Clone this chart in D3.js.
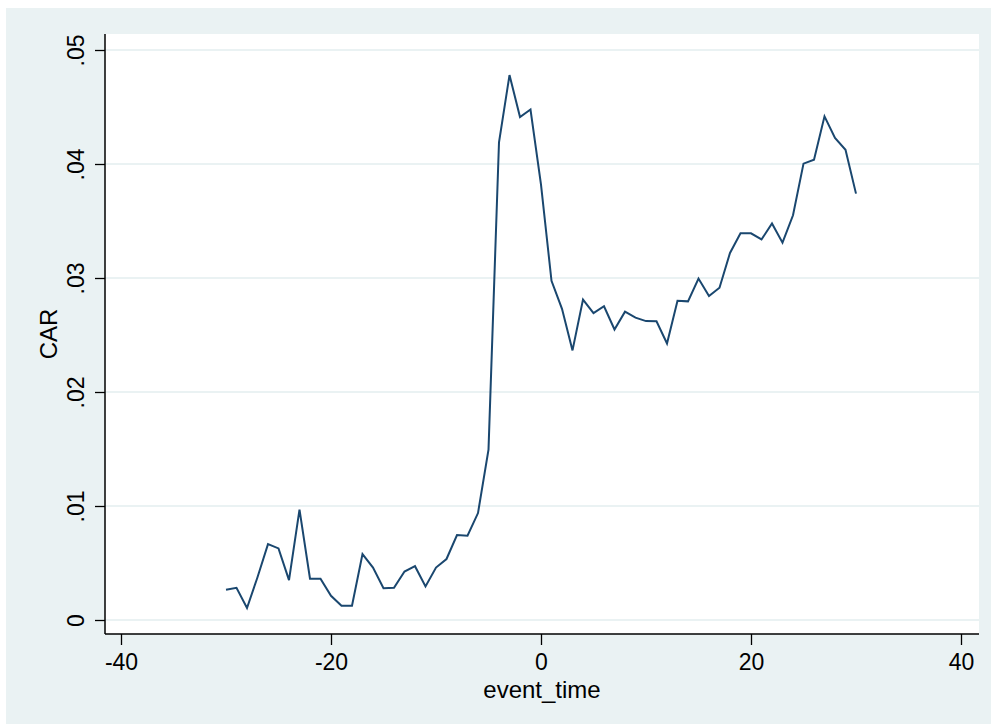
<!DOCTYPE html>
<html>
<head>
<meta charset="utf-8">
<script src="https://cdn.jsdelivr.net/npm/d3@7"></script>
<style>
  body { margin: 0; background: #ffffff; }
  text { font-family: "Liberation Sans", Arial, sans-serif; fill: #000; }
</style>
</head>
<body>
<div id="wrapper"></div>
<script>
// event window -30 .. 30
const eventTime = d3.range(-30, 31)
const carValues = [
  0.00265, 0.00282, 0.00105, 0.00375, 0.00665, 0.00628, 0.0035, 0.00968,
  0.00362, 0.00362, 0.00212, 0.00125, 0.00125, 0.00578, 0.0046, 0.00278,
  0.00282, 0.00425, 0.00472, 0.00295, 0.0046, 0.00535, 0.00745, 0.0074,
  0.00938, 0.01495, 0.0419, 0.0478, 0.04412, 0.04478, 0.0382, 0.02975,
  0.0273, 0.02365, 0.0281, 0.02692, 0.02752, 0.02548, 0.02705, 0.02652,
  0.02622, 0.0262, 0.02425, 0.028, 0.02795, 0.02995, 0.02842, 0.02915,
  0.0322, 0.03392, 0.03392, 0.03338, 0.03478, 0.0331, 0.0355, 0.04003,
  0.04038, 0.04418, 0.04228, 0.04125, 0.0374,
]
const xTicks = [-40, -20, 0, 20, 40]
const yTicks = [0, 0.01, 0.02, 0.03, 0.04, 0.05]
const yTickLabels = ['0', '.01', '.02', '.03', '.04', '.05']

const data = eventTime.map((t, i) => ({ t, car: carValues[i] }))

const dimensions = {
  width: 991,
  height: 724,
  plot: { left: 105, top: 34, right: 979, bottom: 634 },
}

const svg = d3
  .select('#wrapper')
  .append('svg')
  .attr('width', dimensions.width)
  .attr('height', dimensions.height)
  .style('display', 'block')

// outer graph region
svg
  .append('rect')
  .attr('x', 6)
  .attr('y', 8)
  .attr('width', dimensions.width - 6)
  .attr('height', dimensions.height - 8)
  .attr('fill', '#eaf2f3')

const p = dimensions.plot
svg
  .append('rect')
  .attr('x', p.left)
  .attr('y', p.top)
  .attr('width', p.right - p.left)
  .attr('height', p.bottom - p.top)
  .attr('fill', '#ffffff')

const xScale = d3.scaleLinear().domain([-40, 40]).range([121, 961])
const yScale = d3.scaleLinear().domain([0, 0.05]).range([620, 50])

// gridlines
svg
  .append('g')
  .selectAll('line')
  .data(yTicks)
  .join('line')
  .attr('x1', p.left)
  .attr('x2', p.right)
  .attr('y1', (d) => yScale(d))
  .attr('y2', (d) => yScale(d))
  .attr('stroke', '#eaf2f3')
  .attr('stroke-width', 2)

// the line
const lineGen = d3
  .line()
  .x((d) => xScale(d.t))
  .y((d) => yScale(d.car))

svg
  .append('path')
  .datum(data)
  .attr('d', lineGen)
  .attr('fill', 'none')
  .attr('stroke', '#1a476f')
  .attr('stroke-width', 2)
  .attr('stroke-linejoin', 'miter')

// x axis
const xAxis = svg
  .append('g')
  .attr('transform', `translate(0, ${p.bottom})`)
  .call(
    d3.axisBottom(xScale).tickValues(xTicks).tickSize(11)
      .tickFormat((d) => String(d))
  )
xAxis.select('.domain').attr('d', `M${p.left},0H${p.right}`).attr('stroke-width', 1.5)
xAxis.selectAll('.tick line').attr('stroke-width', 1.3)
xAxis
  .selectAll('.tick text')
  .attr('font-size', 23)
  .attr('fill', '#000')
  .attr('y', 36)
  .attr('dy', null)

// y axis
const yAxis = svg
  .append('g')
  .attr('transform', `translate(${p.left}, 0)`)
  .call(d3.axisLeft(yScale).tickValues(yTicks).tickSize(10).tickFormat((d, i) => yTickLabels[i]))
yAxis.select('.domain').attr('d', `M0,${p.top}V${p.bottom}`).attr('stroke-width', 1.5)
yAxis.selectAll('.tick line').attr('stroke-width', 1.3)
yAxis
  .selectAll('.tick text')
  .attr('font-size', 23)
  .attr('fill', '#000')
  .attr('x', null)
  .attr('dy', null)
  .attr('text-anchor', 'middle')
  .attr('transform', 'translate(-21, 0) rotate(-90)')

// axis titles
svg
  .append('text')
  .attr('x', 542)
  .attr('y', 698)
  .attr('text-anchor', 'middle')
  .attr('font-size', 24)
  .text('event_time')

svg
  .append('text')
  .attr('transform', `translate(57, ${(p.top + p.bottom) / 2}) rotate(-90)`)
  .attr('text-anchor', 'middle')
  .attr('font-size', 24)
  .text('CAR')
</script>
</body>
</html>
